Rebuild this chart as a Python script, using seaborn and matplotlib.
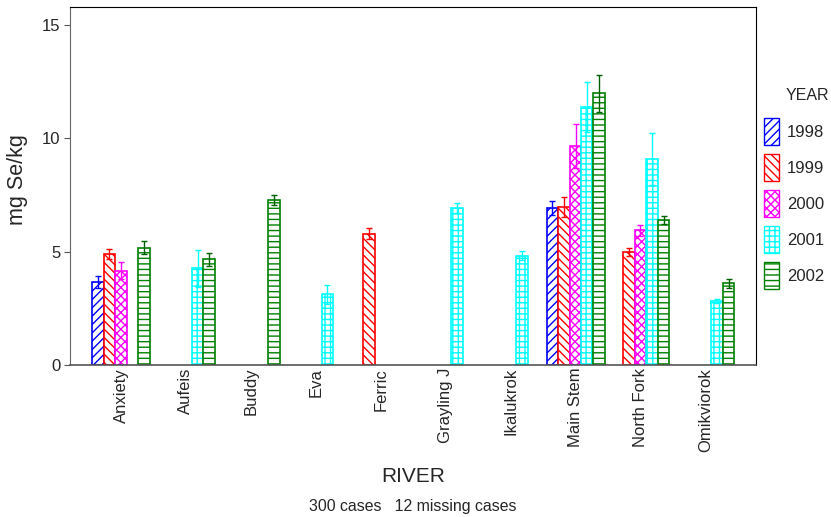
import numpy as np
import pandas as pd
import matplotlib
matplotlib.use("Agg")
import matplotlib.pyplot as plt
from matplotlib.patches import Patch
import seaborn as sns

rivers = ["Anxiety", "Aufeis", "Buddy", "Eva", "Ferric", "Grayling J",
          "Ikalukrok", "Main Stem", "North Fork", "Omikviorok"]
years = ["1998", "1999", "2000", "2001", "2002"]

# mean mg Se/kg per river, one list per year (None = no samples)
se_1998 = [3.66, None, None, None, None, None, None, 6.91, None, None]
se_1999 = [4.88, None, None, None, 5.79, None, None, 6.97, 5.00, None]
se_2000 = [4.16, None, None, None, None, None, None, 9.66, 5.94, None]
se_2001 = [None, 4.26, None, 3.12, None, 6.91, 4.82, 11.37, 9.09, 2.81]
se_2002 = [5.17, 4.66, 7.28, None, None, None, None, 11.99, 6.40, 3.60]

# standard error (half-length of the error bar)
err_1998 = [0.28, None, None, None, None, None, None, 0.31, None, None]
err_1999 = [0.22, None, None, None, 0.24, None, None, 0.44, 0.18, None]
err_2000 = [0.37, None, None, None, None, None, None, 0.96, 0.24, None]
err_2001 = [None, 0.80, None, 0.41, None, 0.22, 0.19, 1.10, 1.14, 0.09]
err_2002 = [0.29, 0.29, 0.23, None, None, None, None, 0.83, 0.16, 0.19]

colors = ["#0000ff", "#ff0000", "#ff00ff", "#00ffff", "#008000"]
hatch_colors = ["#0000ff", "#ff0000", "#ff00ff", "#00ffff", "#7cbf7c"]
hatches = ["////", "\\\\\\\\", "xxxx", "+++", "---"]

means = [se_1998, se_1999, se_2000, se_2001, se_2002]
errs = [err_1998, err_1999, err_2000, err_2001, err_2002]

rows = []
for y, m in zip(years, means):
    for r, v in zip(rivers, m):
        if v is not None:
            rows.append({"RIVER": r, "YEAR": y, "value": v})
df = pd.DataFrame(rows)

sns.set_style("white")
plt.rcParams["font.family"] = ["Liberation Sans", "DejaVu Sans"]
plt.rcParams["hatch.linewidth"] = 1.0


def style_patch(p, j):
    p.set_facecolor("white")
    p.set_edgecolor(colors[j])
    p.set_hatch(hatches[j])
    if hasattr(p, "set_hatchcolor"):
        p.set_hatchcolor(hatch_colors[j])


fig = plt.figure(figsize=(8.31, 5.17), dpi=100)
ax = fig.add_axes([0.0842, 0.294, 0.8256, 0.6925])

sns.barplot(data=df, x="RIVER", y="value", hue="YEAR", order=rivers,
            hue_order=years, palette=colors, width=0.894, errorbar=None,
            legend=False, ax=ax)

bar_groups = list(ax.containers)
for j, cont in enumerate(bar_groups):
    for bar in cont:
        style_patch(bar, j)
        bar.set_linewidth(1.2)
        cx = bar.get_x() + bar.get_width() / 2
        i = int(round(cx))
        e = errs[j][i]
        if e is not None:
            ecol = "#006000" if j == 4 else colors[j]
            ax.errorbar(cx, bar.get_height(), yerr=e, color=ecol,
                        elinewidth=1.0, capsize=2, capthick=1.0)

ax.set_ylim(0, 15.8)
ax.set_xlim(-0.786, 9.78)
ax.set_yticks([0, 5, 10, 15])
ax.tick_params(axis="y", direction="out", length=4, width=0.8,
               color="#555555", labelsize=12, pad=3, left=True)
ax.tick_params(axis="x", length=0, labelsize=12, pad=2)
plt.setp(ax.get_xticklabels(), rotation=90)
for s in ax.spines.values():
    s.set_visible(True)
    s.set_color("black")
    s.set_linewidth(0.8)
ax.spines["left"].set_color("#666666")
ax.spines["bottom"].set_color("#555555")
ax.spines["bottom"].set_linewidth(1.2)

ax.set_xlabel("")
ax.set_ylabel("mg Se/kg", fontsize=15.5)
ax.yaxis.set_label_coords(-0.061, 0.517)

fig.text(0.5 * (0.0842 + 0.9098), 1 - 476 / 517, "RIVER", ha="center",
         va="center", fontsize=15)
fig.text(0.5 * (0.0842 + 0.9098), 1 - 507 / 517, "300 cases   12 missing cases",
         ha="center", va="center", fontsize=11.4)

fig.text(786 / 831, 1 - 96 / 517, "YEAR", ha="left", va="center", fontsize=11.5)
handles = []
for j in range(len(years)):
    p = Patch(linewidth=1.0)
    style_patch(p, j)
    handles.append(p)
fig.legend(handles, years, loc="upper left",
           bbox_to_anchor=(749 / 831, 1 - 103 / 517), frameon=False,
           fontsize=12, handlelength=0.87, handleheight=2.1,
           labelspacing=0.55, handletextpad=0.5)

fig.savefig("out.png", dpi=100)
